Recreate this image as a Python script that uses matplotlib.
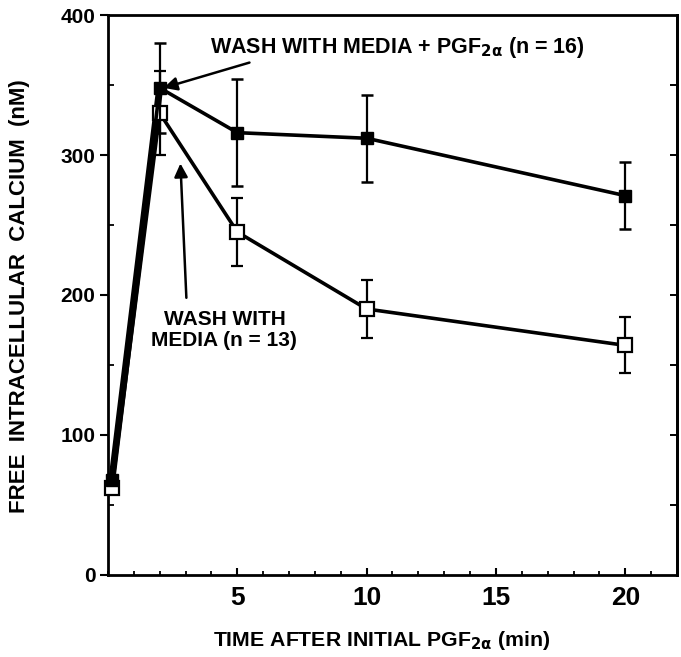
import matplotlib
matplotlib.use("Agg")
import matplotlib.pyplot as plt
from matplotlib.ticker import MultipleLocator

plt.rcParams['font.family'] = ['Liberation Sans', 'DejaVu Sans']
plt.rcParams['font.weight'] = 'bold'
plt.rcParams['mathtext.default'] = 'bf'

# temps (min)
t = [0.15, 2, 5, 10, 20]
# lavage milieu + PGF2a (carrés pleins)
pgf_moy = [68, 348, 316, 312, 271]
pgf_err = [0, 32, 38, 31, 24]
# lavage milieu seul (carrés vides)
med_moy = [62, 330, 245, 190, 164]
med_err = [0, 30, 24, 21, 20]

fig = plt.figure(figsize=(6.81, 6.57), dpi=100)
ax = fig.add_axes([0.1586, 0.125, 0.8355, 0.852])

# segment épais 0 -> 2 min
ax.plot(t[:2], pgf_moy[:2], color='black', lw=5, solid_capstyle='butt', zorder=2)

ax.errorbar(t, med_moy, yerr=med_err, color='black', lw=2.6, elinewidth=1.6,
            capsize=4, capthick=1.8, marker='s', ms=9.5, mfc='white', mec='black',
            mew=1.6, zorder=3, clip_on=False)
ax.errorbar(t, pgf_moy, yerr=pgf_err, color='black', lw=2.6, elinewidth=1.6,
            capsize=4, capthick=1.8, marker='s', ms=9, mfc='black', mec='black',
            zorder=4, clip_on=False)

ax.set_xlim(0, 22)
ax.set_ylim(0, 400)
ax.set_xticks([5, 10, 15, 20])
ax.xaxis.set_minor_locator(MultipleLocator(1))
ax.set_yticks([0, 100, 200, 300, 400])
ax.yaxis.set_minor_locator(MultipleLocator(50))

ax.tick_params(axis='x', which='major', direction='in', length=5, width=1.5,
               labelsize=19, pad=8)
ax.tick_params(axis='x', which='minor', direction='in', length=3, width=1.3)
ax.tick_params(axis='y', which='major', direction='out', length=6, width=1.5,
               labelsize=15, pad=3)
ax.tick_params(axis='y', which='minor', direction='in', length=4, width=1.3)
for lab in ax.get_xticklabels() + ax.get_yticklabels():
    lab.set_fontweight('bold')
for s in ax.spines.values():
    s.set_linewidth(2)

# graduations côté droit, vers l'intérieur
ax2 = ax.secondary_yaxis('right')
ax2.set_yticks(range(50, 400, 50))
ax2.tick_params(direction='in', length=5, width=1.4, labelright=False)
ax2.spines['right'].set_linewidth(2)

fig.text(20 / 681, 1 - 296 / 657, 'FREE  INTRACELLULAR  CALCIUM  (nM)',
         rotation=90, fontsize=16, fontweight='bold', ha='center', va='center')
fig.text(382 / 681, 1 - 640 / 657, r'TIME AFTER INITIAL PGF$_{2\alpha}$ (min)',
         fontsize=15.3, fontweight='bold', ha='center', va='center')

ax.annotate(r'WASH WITH MEDIA + PGF$_{2\alpha}$ (n = 16)', xy=(2.15, 348),
            xytext=(3.95, 377), fontsize=15.5, fontweight='bold', ha='left',
            va='center',
            arrowprops=dict(arrowstyle='-|>', color='black', lw=1.8,
                            mutation_scale=20, shrinkA=0, shrinkB=0,
                            relpos=(0.13, 0.0)))
ax.annotate('', xy=(2.8, 294), xytext=(3.03, 198),
            arrowprops=dict(arrowstyle='-|>', color='black', lw=1.8,
                            mutation_scale=20, shrinkA=0, shrinkB=0))
ax.text(4.5, 175, 'WASH WITH\nMEDIA (n = 13)', fontsize=15,
        fontweight='bold', ha='center', va='center', linespacing=1.15)

fig.savefig('out.png', dpi=100)
